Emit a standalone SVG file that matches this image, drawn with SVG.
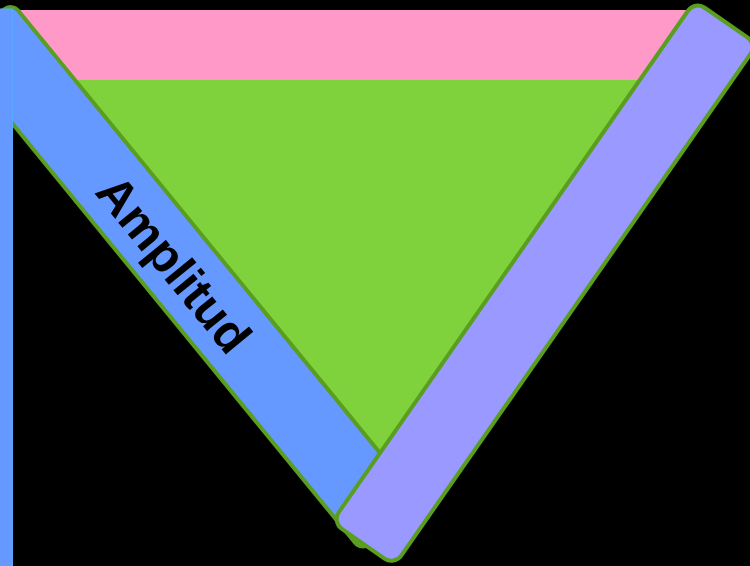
<svg xmlns="http://www.w3.org/2000/svg" width="750" height="566" viewBox="0 0 750 566">
  <style>
    .band { stroke: #5a9e1f; stroke-width: 4; }
    .lbl { font-family: "Liberation Sans", Arial, sans-serif; font-weight: bold; font-size: 49px; fill: #000; }
  </style>
  <rect x="0" y="0" width="750" height="566" fill="#000"/>
  <g id="triangle">
    <polygon points="10,10 700,10 380,453" fill="#80d23c"/>
    <polygon points="10,10 700,10 700,80 10,80" fill="#ff99c8"/>
  </g>
  <g id="amplitud">
    <rect class="band" x="0" y="0" width="645" height="76" rx="10" fill="#6699ff" transform="translate(12,3) rotate(50.73)"/>
    <text class="lbl" x="0" y="0" text-anchor="middle" dominant-baseline="central" transform="translate(174,264) rotate(50.73)">Amplitud</text>
  </g>
  <g id="right-band">
    <rect class="band" x="0" y="0" width="635" height="76" rx="12" fill="#9999ff" transform="translate(332,522) rotate(-55.15)"/>
  </g>
  <g id="strip">
    <rect x="-2" y="9" width="14.5" height="560" fill="#6699ff" stroke="#55aaff" stroke-width="1"/>
  </g>
  <g id="connectors"/>
</svg>
